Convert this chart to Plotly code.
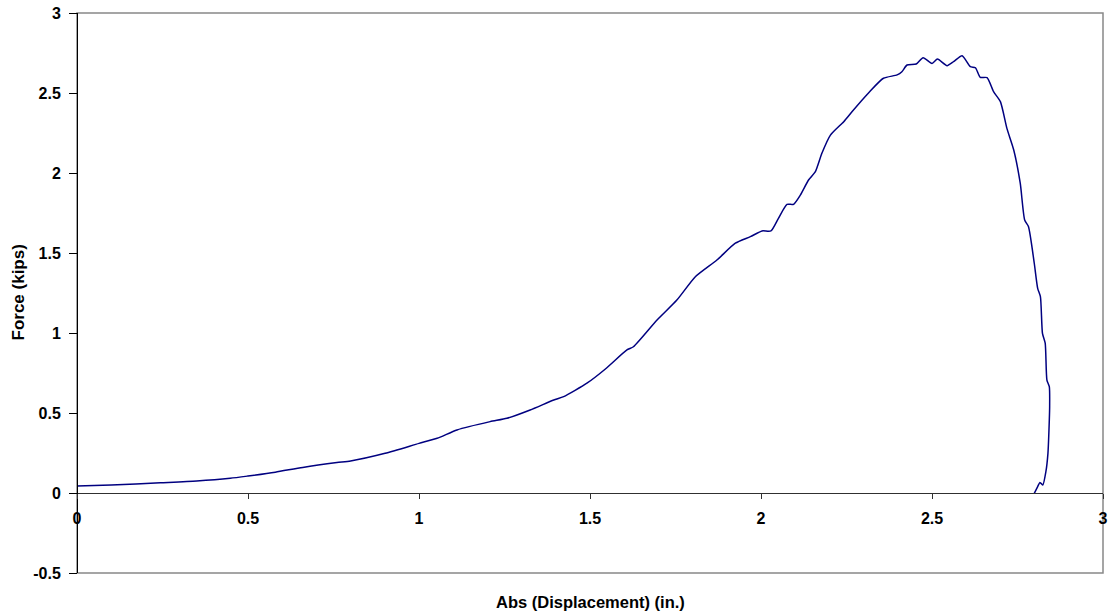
import plotly.graph_objects as go

displacement = [0.0, 0.1, 0.244, 0.35, 0.448, 0.5, 0.58, 0.66, 0.76, 0.8, 0.901, 1.0, 1.053, 1.111,
                1.208, 1.257, 1.325, 1.394, 1.423, 1.491, 1.545, 1.608, 1.627, 1.696, 1.754, 1.808,
                1.871, 1.925, 1.969, 2.003, 2.029, 2.051, 2.076, 2.095, 2.115, 2.139, 2.159, 2.178,
                2.203, 2.242, 2.266, 2.315, 2.358, 2.398, 2.412, 2.427, 2.454, 2.474, 2.5, 2.516,
                2.544, 2.563, 2.588, 2.612, 2.627, 2.641, 2.661, 2.680, 2.700, 2.719, 2.739, 2.758,
                2.771, 2.782, 2.799, 2.809, 2.817, 2.823, 2.831, 2.836, 2.843, 2.844, 2.843, 2.839,
                2.833, 2.824, 2.819, 2.815, 2.809, 2.799]
force = [0.044, 0.05, 0.064, 0.075, 0.092, 0.106, 0.13, 0.16, 0.19, 0.20, 0.248, 0.31, 0.342, 0.394,
         0.446, 0.467, 0.519, 0.581, 0.602, 0.686, 0.775, 0.894, 0.914, 1.081, 1.206, 1.352,
         1.456, 1.561, 1.602, 1.638, 1.638, 1.717, 1.804, 1.804, 1.862, 1.956, 2.008, 2.123,
         2.237, 2.321, 2.383, 2.502, 2.592, 2.613, 2.633, 2.675, 2.681, 2.721, 2.685, 2.712,
         2.671, 2.696, 2.733, 2.665, 2.658, 2.598, 2.596, 2.508, 2.446, 2.279, 2.144, 1.936,
         1.706, 1.665, 1.436, 1.279, 1.227, 0.998, 0.936, 0.706, 0.665, 0.540, 0.456, 0.248,
         0.133, 0.050, 0.060, 0.065, 0.040, -0.002]

x_ticks = [0, 0.5, 1, 1.5, 2, 2.5, 3]
y_ticks = [-0.5, 0, 0.5, 1, 1.5, 2, 2.5, 3]

font_family = "Liberation Sans, Arial, sans-serif"

fig = go.Figure()
fig.add_trace(go.Scatter(x=displacement, y=force, mode="lines",
                         line=dict(color="#000080", width=1.5, shape="spline", smoothing=0.6),
                         hoverinfo="skip", showlegend=False))

fig.update_layout(
    width=1112, height=616,
    margin=dict(l=77, r=9, t=13, b=43, autoexpand=False),
    paper_bgcolor="white", plot_bgcolor="white",
    font=dict(family=font_family, color="black"),
    xaxis=dict(range=[0, 3], tickvals=x_ticks, ticktext=[f"{v:g}" for v in x_ticks],
               showgrid=False, zeroline=False, showline=True, linecolor="#303030", linewidth=1,
               ticks="outside", ticklen=5, tickcolor="#303030", automargin=False,
               anchor="free", position=0.5 / 3.5, ticklabelstandoff=6,
               tickfont=dict(size=16, family=font_family, weight="bold")),
    yaxis=dict(range=[-0.5, 3], tickvals=y_ticks, ticktext=[f"{v:g}" for v in y_ticks],
               showgrid=False, zeroline=False, showline=True, linecolor="black", linewidth=1,
               ticks="outside", ticklen=8, tickcolor="black", automargin=False,
               anchor="free", position=0, ticklabelstandoff=5,
               tickfont=dict(size=16, family=font_family, weight="bold")),
    shapes=[dict(type="rect", xref="paper", yref="paper", x0=0, y0=0, x1=1, y1=1,
                 line=dict(color="#888888", width=1.5), layer="below")],
    annotations=[
        dict(text="<b>Abs (Displacement) (in.)</b>", xref="paper", yref="paper", x=0.5, y=0,
             yshift=-29, showarrow=False, xanchor="center", yanchor="middle",
             font=dict(size=16.5, family=font_family, color="black")),
        dict(text="<b>Force (kips)</b>", xref="paper", yref="paper", x=0, y=0.5,
             xshift=-59.5, showarrow=False, xanchor="center", yanchor="middle", textangle=-90,
             font=dict(size=17, family=font_family, color="black")),
    ],
)

fig.write_html("out.html", config={"displayModeBar": False},
               post_script="document.body.style.margin='0';document.body.style.overflow='hidden';")
